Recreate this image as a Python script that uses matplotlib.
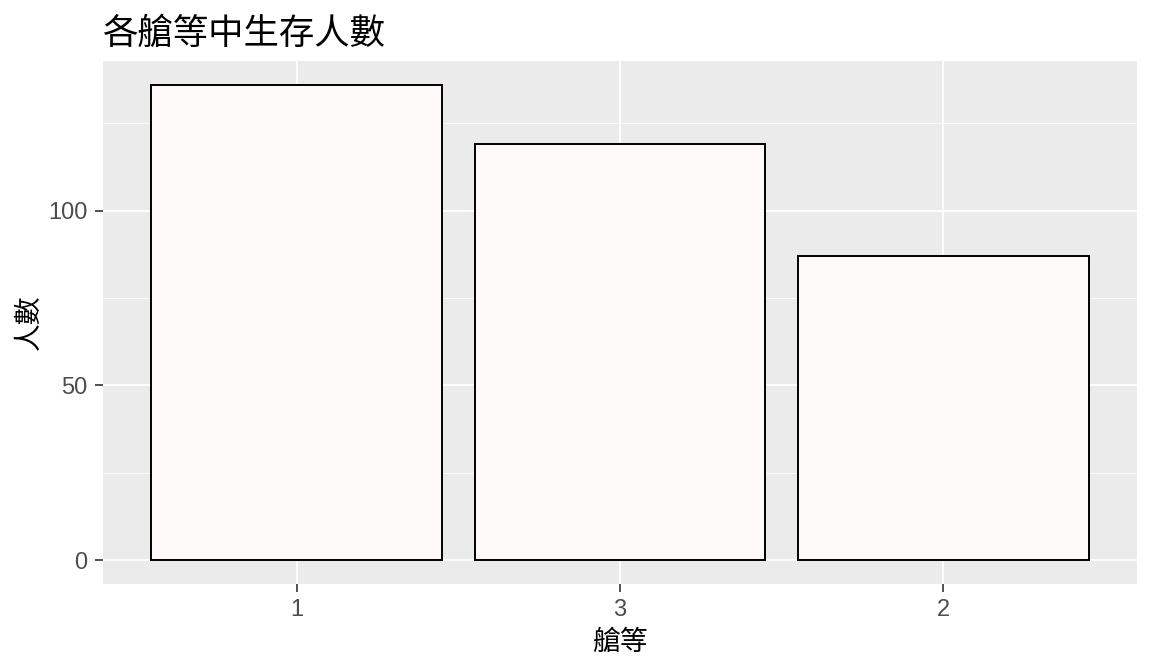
import matplotlib.pyplot as plt
from matplotlib.ticker import MultipleLocator

# survivors per class, in the order shown
classes = ['1', '3', '2']
survived = [136, 119, 87]

cjk = ['Noto Sans CJK TC', 'DejaVu Sans']

fig = plt.figure(figsize=(11.52, 6.72), dpi=100)
ax = fig.add_axes([103/1152, 1 - 584/672, (1137 - 103)/1152, (584 - 61)/672])

ax.set_facecolor('#EBEBEB')
x = range(len(classes))
ax.bar(x, survived, width=0.9, color='#FFFAFA', edgecolor='black', linewidth=1.4, zorder=3)

ax.set_xlim(-0.6, len(classes) - 0.4)
ax.set_ylim(-136 * 0.05, 136 * 1.05)
ax.set_xticks(list(x))
ax.set_xticklabels(classes)
ax.yaxis.set_major_locator(MultipleLocator(50))
ax.yaxis.set_minor_locator(MultipleLocator(25))

ax.grid(which='major', color='white', linewidth=1.3, zorder=0)
ax.grid(which='minor', axis='y', color='white', linewidth=0.6, zorder=0)
ax.set_axisbelow(True)
for s in ax.spines.values():
    s.set_visible(False)

ax.tick_params(which='major', length=6, width=1.2, color='#333333',
               labelcolor='#4D4D4D', labelsize=17, pad=5)
ax.tick_params(which='minor', length=0)
for lab in ax.get_xticklabels() + ax.get_yticklabels():
    lab.set_family(['Liberation Sans', 'DejaVu Sans'])

ax.set_xlabel('艙等', family=cjk, fontsize=20, labelpad=4)
ax.set_ylabel('人數', family=cjk, fontsize=20, labelpad=3)
ax.set_title('各艙等中生存人數', family=cjk, fontsize=25.5, loc='left', pad=12)

fig.savefig('out.png', dpi=100)
